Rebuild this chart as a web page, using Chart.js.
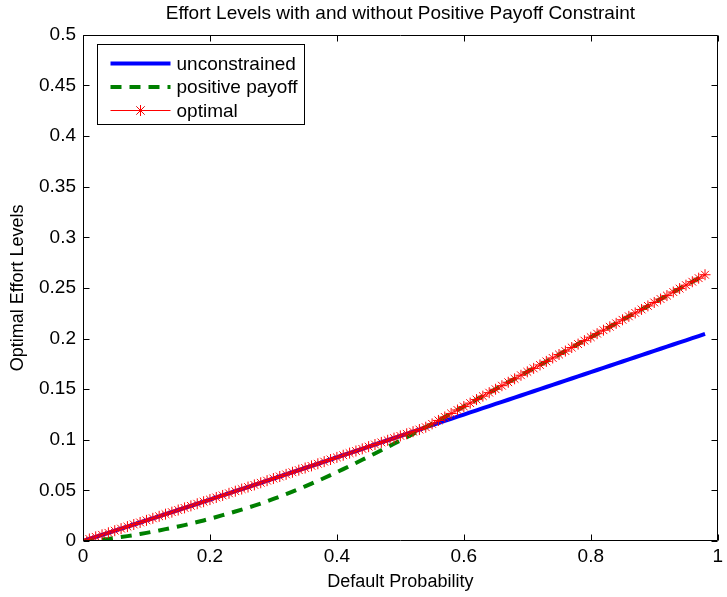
<!DOCTYPE html>
<html>
<head>
<meta charset="utf-8">
<script src="https://cdn.jsdelivr.net/npm/chart.js@4/dist/chart.umd.min.js"></script>
<style>
  html, body { margin: 0; padding: 0; background: #fff; }
  #wrap { width: 727px; height: 597px; }
</style>
</head>
<body>
<div id="wrap"><canvas id="mycanvas" width="727" height="597"></canvas></div>
<script>
// default probability (x)
var prob = [0.00,0.01,0.02,0.03,0.04,0.05,0.06,0.07,0.08,0.09,
            0.10,0.11,0.12,0.13,0.14,0.15,0.16,0.17,0.18,0.19,
            0.20,0.21,0.22,0.23,0.24,0.25,0.26,0.27,0.28,0.29,
            0.30,0.31,0.32,0.33,0.34,0.35,0.36,0.37,0.38,0.39,
            0.40,0.41,0.42,0.43,0.44,0.45,0.46,0.47,0.48,0.49,
            0.50,0.51,0.52,0.53,0.54,0.55,0.56,0.57,0.58,0.59,
            0.60,0.61,0.62,0.63,0.64,0.65,0.66,0.67,0.68,0.69,
            0.70,0.71,0.72,0.73,0.74,0.75,0.76,0.77,0.78,0.79,
            0.80,0.81,0.82,0.83,0.84,0.85,0.86,0.87,0.88,0.89,
            0.90,0.91,0.92,0.93,0.94,0.95,0.96,0.97,0.98];

var unconstrained = [0.0000,0.0020,0.0041,0.0061,0.0081,0.0102,0.0122,0.0142,0.0163,0.0183,
                     0.0204,0.0224,0.0244,0.0265,0.0285,0.0306,0.0327,0.0347,0.0368,0.0388,
                     0.0409,0.0430,0.0450,0.0471,0.0492,0.0513,0.0533,0.0554,0.0575,0.0596,
                     0.0617,0.0637,0.0658,0.0679,0.0700,0.0721,0.0742,0.0763,0.0784,0.0805,
                     0.0826,0.0847,0.0868,0.0889,0.0910,0.0932,0.0953,0.0974,0.0995,0.1016,
                     0.1038,0.1059,0.1080,0.1101,0.1123,0.1144,0.1165,0.1186,0.1207,0.1228,
                     0.1249,0.1270,0.1291,0.1312,0.1333,0.1354,0.1375,0.1395,0.1416,0.1437,
                     0.1458,0.1479,0.1500,0.1521,0.1542,0.1563,0.1584,0.1605,0.1626,0.1647,
                     0.1668,0.1689,0.1710,0.1731,0.1752,0.1773,0.1794,0.1815,0.1836,0.1857,
                     0.1878,0.1899,0.1920,0.1941,0.1962,0.1982,0.2003,0.2024,0.2045];

var positivePayoff = [0.0000,0.0003,0.0008,0.0014,0.0021,0.0030,0.0039,0.0048,0.0058,0.0069,
                      0.0080,0.0092,0.0104,0.0117,0.0130,0.0143,0.0157,0.0172,0.0187,0.0203,
                      0.0220,0.0237,0.0255,0.0273,0.0291,0.0310,0.0329,0.0349,0.0370,0.0392,
                      0.0415,0.0439,0.0463,0.0488,0.0514,0.0540,0.0567,0.0594,0.0622,0.0651,
                      0.0680,0.0710,0.0740,0.0771,0.0802,0.0833,0.0865,0.0897,0.0929,0.0961,
                      0.0993,0.1025,0.1058,0.1091,0.1124,0.1157,0.1191,0.1225,0.1260,0.1294,
                      0.1328,0.1362,0.1397,0.1431,0.1465,0.1499,0.1534,0.1568,0.1602,0.1637,
                      0.1671,0.1705,0.1739,0.1774,0.1808,0.1842,0.1876,0.1911,0.1945,0.1979,
                      0.2013,0.2048,0.2082,0.2116,0.2150,0.2185,0.2219,0.2253,0.2287,0.2322,
                      0.2356,0.2390,0.2424,0.2459,0.2493,0.2527,0.2561,0.2596,0.2630];

var optimal = [0.0000,0.0020,0.0041,0.0061,0.0081,0.0102,0.0122,0.0142,0.0163,0.0183,
               0.0204,0.0224,0.0244,0.0265,0.0285,0.0306,0.0327,0.0347,0.0368,0.0388,
               0.0409,0.0430,0.0450,0.0471,0.0492,0.0513,0.0533,0.0554,0.0575,0.0596,
               0.0617,0.0637,0.0658,0.0679,0.0700,0.0721,0.0742,0.0763,0.0784,0.0805,
               0.0826,0.0847,0.0868,0.0889,0.0910,0.0932,0.0953,0.0974,0.0995,0.1016,
               0.1038,0.1059,0.1080,0.1101,0.1124,0.1157,0.1191,0.1225,0.1260,0.1294,
               0.1328,0.1362,0.1397,0.1431,0.1465,0.1499,0.1534,0.1568,0.1602,0.1637,
               0.1671,0.1705,0.1739,0.1774,0.1808,0.1842,0.1876,0.1911,0.1945,0.1979,
               0.2013,0.2048,0.2082,0.2116,0.2150,0.2185,0.2219,0.2253,0.2287,0.2322,
               0.2356,0.2390,0.2424,0.2459,0.2493,0.2527,0.2561,0.2596,0.2630];

var xTicks = [0, 0.2, 0.4, 0.6, 0.8, 1];
var yTicks = [0, 0.05, 0.1, 0.15, 0.2, 0.25, 0.3, 0.35, 0.4, 0.45, 0.5];

var FONT = "'Liberation Sans', Arial, Helvetica, sans-serif";

function pts(ys) {
  var out = [];
  for (var i = 0; i < prob.length; i++) out.push({x: prob[i], y: ys[i]});
  return out;
}

// box round the axes with inward tick marks, plus the legend inside the plot
var matlabBox = {
  id: 'matlabBox',
  afterDraw: function(chart) {
    var ctx = chart.ctx, a = chart.chartArea;
    var xs = chart.scales.x, ys = chart.scales.y;
    var L = Math.round(a.left) + 0.5, R = Math.round(a.right) - 0.5;
    var T = Math.round(a.top) + 0.5, B = Math.round(a.bottom) - 0.5;
    var tl = 6;
    ctx.save();
    ctx.strokeStyle = '#000';
    ctx.lineWidth = 1;
    ctx.beginPath();
    ctx.rect(L, T, R - L, B - T);
    xTicks.forEach(function(v) {
      var px = Math.round(xs.getPixelForValue(v)) + 0.5;
      ctx.moveTo(px, B); ctx.lineTo(px, B - tl);
      ctx.moveTo(px, T); ctx.lineTo(px, T + tl);
    });
    yTicks.forEach(function(v) {
      var py = Math.round(ys.getPixelForValue(v)) + 0.5;
      ctx.moveTo(L, py); ctx.lineTo(L + tl, py);
      ctx.moveTo(R, py); ctx.lineTo(R - tl, py);
    });
    ctx.stroke();

    // legend
    var bx = L + 14, by = T + 9, bw = 207, bh = 80;
    ctx.fillStyle = '#fff';
    ctx.fillRect(bx, by, bw, bh);
    ctx.strokeRect(bx, by, bw, bh);
    ctx.font = '19px ' + FONT;
    ctx.textBaseline = 'middle';
    ctx.textAlign = 'left';
    var items = chart.data.datasets;
    for (var i = 0; i < items.length; i++) {
      var d = items[i];
      var y = by + 19 + i * 23.5;
      ctx.save();
      ctx.strokeStyle = d.borderColor;
      ctx.lineWidth = d.borderWidth;
      ctx.setLineDash(d.borderDash || []);
      ctx.beginPath();
      ctx.moveTo(bx + 13, y); ctx.lineTo(bx + 73, y);
      ctx.stroke();
      ctx.restore();
      if (d.pointRadius > 0) {
        Chart.helpers.drawPoint(ctx, {pointStyle: d.pointStyle, radius: d.pointRadius,
          borderWidth: 1, rotation: 0}, bx + 43, y);
        ctx.strokeStyle = d.borderColor;
        ctx.stroke();
      }
      ctx.fillStyle = '#000';
      ctx.fillText(d.label, bx + 79, y + 1);
    }
    ctx.restore();
  }
};

var ctx = document.getElementById('mycanvas');

var chartdata = {
  datasets: [
    {
      label: 'unconstrained',
      data: pts(unconstrained),
      borderColor: '#0000ff',
      backgroundColor: '#0000ff',
      borderWidth: 4,
      pointRadius: 0,
      order: 2
    },
    {
      label: 'positive payoff',
      data: pts(positivePayoff),
      borderColor: '#008000',
      backgroundColor: '#008000',
      borderWidth: 4,
      borderDash: [11, 8],
      pointRadius: 0,
      order: 1
    },
    {
      label: 'optimal',
      data: pts(optimal),
      borderColor: '#ff0000',
      backgroundColor: '#ff0000',
      borderWidth: 1,
      pointStyle: 'star',
      pointRadius: 5.5,
      pointBorderWidth: 1,
      pointBorderColor: '#ff0000',
      order: 0
    }
  ]
};

var LineGraph = new Chart(ctx, {
  type: 'line',
  data: chartdata,
  plugins: [matlabBox],
  options: {
    responsive: false,
    animation: false,
    layout: { padding: { left: 0, right: 5, top: 0, bottom: 0 } },
    plugins: {
      legend: { display: false },
      tooltip: { enabled: false },
      title: {
        display: true,
        fullSize: false,
        text: 'Effort Levels with and without Positive Payoff Constraint',
        color: '#000',
        font: { family: FONT, size: 19, weight: 'normal' },
        padding: { top: 2, bottom: 10 }
      }
    },
    scales: {
      x: {
        type: 'linear',
        min: 0, max: 1,
        afterFit: function(s) { s.height = 56; },
        afterBuildTicks: function(s) { s.ticks = xTicks.map(function(v){ return {value: v}; }); },
        grid: { display: false, drawTicks: false },
        border: { display: false },
        ticks: { color: '#000', font: { family: FONT, size: 19 }, padding: 4, maxRotation: 0,
                  callback: function(v) { return String(v); } },
        title: { display: true, text: 'Default Probability', color: '#000',
                 font: { family: FONT, size: 18 }, padding: { top: 0, bottom: 4 } }
      },
      y: {
        min: 0, max: 0.5,
        afterFit: function(s) { s.width = 83; },
        afterBuildTicks: function(s) { s.ticks = yTicks.map(function(v){ return {value: v}; }); },
        grid: { display: false, drawTicks: false },
        border: { display: false },
        ticks: { color: '#000', font: { family: FONT, size: 19 }, padding: 7,
                 callback: function(v) { return String(v); } },
        title: { display: true, text: 'Optimal Effort Levels', color: '#000',
                 font: { family: FONT, size: 18 }, padding: { top: 7, bottom: 0 } }
      }
    }
  }
});
</script>
</body>
</html>
